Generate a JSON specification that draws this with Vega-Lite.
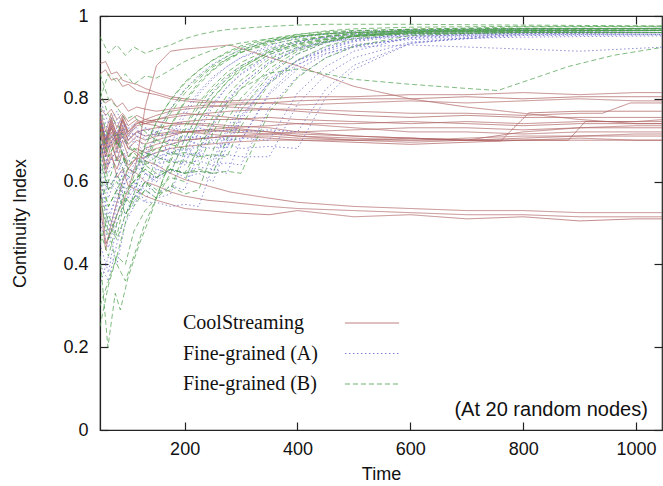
{
"$schema":"https://vega.github.io/schema/vega-lite/v6.json",
"width":562,"height":414,
"autosize":{"type":"none"},
"padding":{"left":100,"top":16,"right":1,"bottom":56},
"background":"white",
"config":{
"view":{"stroke":"#222","strokeWidth":1.2},
"axis":{"grid":false,"domainColor":"#222","domainWidth":1.2,"tickColor":"#222","tickWidth":1.2,"tickSize":-8,"labelFont":"Liberation Sans","labelFontSize":18,"labelColor":"#111","titleFont":"Liberation Sans","titleFontSize":18,"titleFontWeight":"normal","titleColor":"#111","labelFlush":false},
"axisX":{"labelPadding":18,"titlePadding":7},
"axisY":{"labelPadding":20,"titlePadding":33}
},
"layer":[
{
"data":{"values":[
{"s":"C","n":1,"t":50,"v":0.86},{"s":"C","n":1,"t":60,"v":0.87},{"s":"C","n":1,"t":70,"v":0.845},{"s":"C","n":1,"t":80,"v":0.85},{"s":"C","n":1,"t":90,"v":0.83},{"s":"C","n":1,"t":100,"v":0.835},{"s":"C","n":1,"t":115,"v":0.82},{"s":"C","n":1,"t":130,"v":0.815},{"s":"C","n":1,"t":150,"v":0.81},{"s":"C","n":1,"t":175,"v":0.8},{"s":"C","n":1,"t":200,"v":0.795},{"s":"C","n":1,"t":240,"v":0.79},{"s":"C","n":1,"t":280,"v":0.795},{"s":"C","n":1,"t":350,"v":0.8},{"s":"C","n":1,"t":400,"v":0.805},{"s":"C","n":1,"t":500,"v":0.805},{"s":"C","n":1,"t":600,"v":0.81},{"s":"C","n":1,"t":700,"v":0.81},{"s":"C","n":1,"t":800,"v":0.815},{"s":"C","n":1,"t":900,"v":0.81},{"s":"C","n":1,"t":1000,"v":0.815},{"s":"C","n":1,"t":1050,"v":0.815},
{"s":"C","n":2,"t":50,"v":0.885},{"s":"C","n":2,"t":60,"v":0.89},{"s":"C","n":2,"t":70,"v":0.86},{"s":"C","n":2,"t":80,"v":0.865},{"s":"C","n":2,"t":90,"v":0.845},{"s":"C","n":2,"t":100,"v":0.84},{"s":"C","n":2,"t":115,"v":0.835},{"s":"C","n":2,"t":130,"v":0.825},{"s":"C","n":2,"t":150,"v":0.815},{"s":"C","n":2,"t":175,"v":0.805},{"s":"C","n":2,"t":200,"v":0.8},{"s":"C","n":2,"t":240,"v":0.795},{"s":"C","n":2,"t":280,"v":0.79},{"s":"C","n":2,"t":350,"v":0.79},{"s":"C","n":2,"t":400,"v":0.785},{"s":"C","n":2,"t":500,"v":0.79},{"s":"C","n":2,"t":600,"v":0.795},{"s":"C","n":2,"t":700,"v":0.79},{"s":"C","n":2,"t":800,"v":0.795},{"s":"C","n":2,"t":900,"v":0.8},{"s":"C","n":2,"t":1000,"v":0.795},{"s":"C","n":2,"t":1050,"v":0.795},
{"s":"C","n":3,"t":50,"v":0.6},{"s":"C","n":3,"t":60,"v":0.45},{"s":"C","n":3,"t":70,"v":0.48},{"s":"C","n":3,"t":80,"v":0.52},{"s":"C","n":3,"t":90,"v":0.55},{"s":"C","n":3,"t":100,"v":0.58},{"s":"C","n":3,"t":115,"v":0.65},{"s":"C","n":3,"t":130,"v":0.78},{"s":"C","n":3,"t":150,"v":0.88},{"s":"C","n":3,"t":175,"v":0.915},{"s":"C","n":3,"t":200,"v":0.92},{"s":"C","n":3,"t":240,"v":0.925},{"s":"C","n":3,"t":280,"v":0.93},{"s":"C","n":3,"t":350,"v":0.9},{"s":"C","n":3,"t":400,"v":0.88},{"s":"C","n":3,"t":500,"v":0.83},{"s":"C","n":3,"t":600,"v":0.8},{"s":"C","n":3,"t":700,"v":0.78},{"s":"C","n":3,"t":800,"v":0.765},{"s":"C","n":3,"t":900,"v":0.75},{"s":"C","n":3,"t":1000,"v":0.74},{"s":"C","n":3,"t":1050,"v":0.74},
{"s":"C","n":4,"t":50,"v":0.75},{"s":"C","n":4,"t":60,"v":0.69},{"s":"C","n":4,"t":70,"v":0.745},{"s":"C","n":4,"t":80,"v":0.7},{"s":"C","n":4,"t":90,"v":0.75},{"s":"C","n":4,"t":100,"v":0.715},{"s":"C","n":4,"t":115,"v":0.74},{"s":"C","n":4,"t":130,"v":0.75},{"s":"C","n":4,"t":150,"v":0.76},{"s":"C","n":4,"t":175,"v":0.77},{"s":"C","n":4,"t":200,"v":0.775},{"s":"C","n":4,"t":240,"v":0.78},{"s":"C","n":4,"t":280,"v":0.785},{"s":"C","n":4,"t":350,"v":0.79},{"s":"C","n":4,"t":400,"v":0.795},{"s":"C","n":4,"t":500,"v":0.8},{"s":"C","n":4,"t":600,"v":0.8},{"s":"C","n":4,"t":700,"v":0.805},{"s":"C","n":4,"t":800,"v":0.8},{"s":"C","n":4,"t":900,"v":0.805},{"s":"C","n":4,"t":1000,"v":0.805},{"s":"C","n":4,"t":1050,"v":0.805},
{"s":"C","n":5,"t":50,"v":0.74},{"s":"C","n":5,"t":60,"v":0.68},{"s":"C","n":5,"t":70,"v":0.73},{"s":"C","n":5,"t":80,"v":0.69},{"s":"C","n":5,"t":90,"v":0.735},{"s":"C","n":5,"t":100,"v":0.7},{"s":"C","n":5,"t":115,"v":0.72},{"s":"C","n":5,"t":130,"v":0.71},{"s":"C","n":5,"t":150,"v":0.715},{"s":"C","n":5,"t":175,"v":0.72},{"s":"C","n":5,"t":200,"v":0.72},{"s":"C","n":5,"t":240,"v":0.725},{"s":"C","n":5,"t":280,"v":0.72},{"s":"C","n":5,"t":350,"v":0.715},{"s":"C","n":5,"t":400,"v":0.71},{"s":"C","n":5,"t":500,"v":0.705},{"s":"C","n":5,"t":600,"v":0.7},{"s":"C","n":5,"t":700,"v":0.7},{"s":"C","n":5,"t":760,"v":0.698},{"s":"C","n":5,"t":810,"v":0.766},{"s":"C","n":5,"t":900,"v":0.77},{"s":"C","n":5,"t":1000,"v":0.77},{"s":"C","n":5,"t":1050,"v":0.77},
{"s":"C","n":6,"t":50,"v":0.76},{"s":"C","n":6,"t":60,"v":0.7},{"s":"C","n":6,"t":70,"v":0.75},{"s":"C","n":6,"t":80,"v":0.71},{"s":"C","n":6,"t":90,"v":0.755},{"s":"C","n":6,"t":100,"v":0.72},{"s":"C","n":6,"t":115,"v":0.745},{"s":"C","n":6,"t":130,"v":0.74},{"s":"C","n":6,"t":150,"v":0.75},{"s":"C","n":6,"t":175,"v":0.755},{"s":"C","n":6,"t":200,"v":0.76},{"s":"C","n":6,"t":240,"v":0.765},{"s":"C","n":6,"t":280,"v":0.77},{"s":"C","n":6,"t":350,"v":0.775},{"s":"C","n":6,"t":400,"v":0.775},{"s":"C","n":6,"t":500,"v":0.77},{"s":"C","n":6,"t":600,"v":0.765},{"s":"C","n":6,"t":700,"v":0.765},{"s":"C","n":6,"t":800,"v":0.76},{"s":"C","n":6,"t":900,"v":0.765},{"s":"C","n":6,"t":940,"v":0.765},{"s":"C","n":6,"t":990,"v":0.79},{"s":"C","n":6,"t":1050,"v":0.79},
{"s":"C","n":7,"t":50,"v":0.8},{"s":"C","n":7,"t":60,"v":0.79},{"s":"C","n":7,"t":70,"v":0.8},{"s":"C","n":7,"t":80,"v":0.78},{"s":"C","n":7,"t":90,"v":0.79},{"s":"C","n":7,"t":100,"v":0.77},{"s":"C","n":7,"t":115,"v":0.78},{"s":"C","n":7,"t":130,"v":0.775},{"s":"C","n":7,"t":150,"v":0.77},{"s":"C","n":7,"t":175,"v":0.775},{"s":"C","n":7,"t":200,"v":0.78},{"s":"C","n":7,"t":240,"v":0.785},{"s":"C","n":7,"t":280,"v":0.78},{"s":"C","n":7,"t":350,"v":0.775},{"s":"C","n":7,"t":400,"v":0.77},{"s":"C","n":7,"t":500,"v":0.76},{"s":"C","n":7,"t":600,"v":0.755},{"s":"C","n":7,"t":700,"v":0.76},{"s":"C","n":7,"t":800,"v":0.755},{"s":"C","n":7,"t":900,"v":0.755},{"s":"C","n":7,"t":1000,"v":0.755},{"s":"C","n":7,"t":1050,"v":0.755},
{"s":"C","n":8,"t":50,"v":0.73},{"s":"C","n":8,"t":60,"v":0.67},{"s":"C","n":8,"t":70,"v":0.72},{"s":"C","n":8,"t":80,"v":0.68},{"s":"C","n":8,"t":90,"v":0.725},{"s":"C","n":8,"t":100,"v":0.69},{"s":"C","n":8,"t":115,"v":0.71},{"s":"C","n":8,"t":130,"v":0.7},{"s":"C","n":8,"t":150,"v":0.71},{"s":"C","n":8,"t":175,"v":0.715},{"s":"C","n":8,"t":200,"v":0.72},{"s":"C","n":8,"t":240,"v":0.72},{"s":"C","n":8,"t":280,"v":0.725},{"s":"C","n":8,"t":350,"v":0.72},{"s":"C","n":8,"t":400,"v":0.715},{"s":"C","n":8,"t":500,"v":0.71},{"s":"C","n":8,"t":600,"v":0.705},{"s":"C","n":8,"t":700,"v":0.7},{"s":"C","n":8,"t":800,"v":0.7},{"s":"C","n":8,"t":880,"v":0.7},{"s":"C","n":8,"t":910,"v":0.745},{"s":"C","n":8,"t":1000,"v":0.745},{"s":"C","n":8,"t":1050,"v":0.75},
{"s":"C","n":9,"t":50,"v":0.75},{"s":"C","n":9,"t":60,"v":0.69},{"s":"C","n":9,"t":70,"v":0.74},{"s":"C","n":9,"t":80,"v":0.7},{"s":"C","n":9,"t":90,"v":0.745},{"s":"C","n":9,"t":100,"v":0.71},{"s":"C","n":9,"t":115,"v":0.735},{"s":"C","n":9,"t":130,"v":0.74},{"s":"C","n":9,"t":150,"v":0.745},{"s":"C","n":9,"t":175,"v":0.74},{"s":"C","n":9,"t":200,"v":0.745},{"s":"C","n":9,"t":240,"v":0.75},{"s":"C","n":9,"t":280,"v":0.75},{"s":"C","n":9,"t":350,"v":0.755},{"s":"C","n":9,"t":400,"v":0.75},{"s":"C","n":9,"t":500,"v":0.745},{"s":"C","n":9,"t":600,"v":0.74},{"s":"C","n":9,"t":700,"v":0.745},{"s":"C","n":9,"t":800,"v":0.74},{"s":"C","n":9,"t":900,"v":0.745},{"s":"C","n":9,"t":1000,"v":0.745},{"s":"C","n":9,"t":1050,"v":0.745},
{"s":"C","n":10,"t":50,"v":0.72},{"s":"C","n":10,"t":60,"v":0.66},{"s":"C","n":10,"t":70,"v":0.71},{"s":"C","n":10,"t":80,"v":0.67},{"s":"C","n":10,"t":90,"v":0.72},{"s":"C","n":10,"t":100,"v":0.68},{"s":"C","n":10,"t":115,"v":0.7},{"s":"C","n":10,"t":130,"v":0.69},{"s":"C","n":10,"t":150,"v":0.7},{"s":"C","n":10,"t":175,"v":0.71},{"s":"C","n":10,"t":200,"v":0.72},{"s":"C","n":10,"t":240,"v":0.725},{"s":"C","n":10,"t":280,"v":0.73},{"s":"C","n":10,"t":350,"v":0.735},{"s":"C","n":10,"t":400,"v":0.74},{"s":"C","n":10,"t":500,"v":0.74},{"s":"C","n":10,"t":600,"v":0.745},{"s":"C","n":10,"t":700,"v":0.74},{"s":"C","n":10,"t":800,"v":0.735},{"s":"C","n":10,"t":900,"v":0.74},{"s":"C","n":10,"t":1000,"v":0.74},{"s":"C","n":10,"t":1050,"v":0.74},
{"s":"C","n":11,"t":50,"v":0.78},{"s":"C","n":11,"t":60,"v":0.76},{"s":"C","n":11,"t":70,"v":0.775},{"s":"C","n":11,"t":80,"v":0.75},{"s":"C","n":11,"t":90,"v":0.765},{"s":"C","n":11,"t":100,"v":0.745},{"s":"C","n":11,"t":115,"v":0.76},{"s":"C","n":11,"t":130,"v":0.75},{"s":"C","n":11,"t":150,"v":0.745},{"s":"C","n":11,"t":175,"v":0.74},{"s":"C","n":11,"t":200,"v":0.74},{"s":"C","n":11,"t":240,"v":0.735},{"s":"C","n":11,"t":280,"v":0.73},{"s":"C","n":11,"t":350,"v":0.72},{"s":"C","n":11,"t":400,"v":0.71},{"s":"C","n":11,"t":500,"v":0.7},{"s":"C","n":11,"t":600,"v":0.695},{"s":"C","n":11,"t":700,"v":0.7},{"s":"C","n":11,"t":800,"v":0.72},{"s":"C","n":11,"t":900,"v":0.73},{"s":"C","n":11,"t":1000,"v":0.735},{"s":"C","n":11,"t":1050,"v":0.735},
{"s":"C","n":12,"t":50,"v":0.7},{"s":"C","n":12,"t":60,"v":0.64},{"s":"C","n":12,"t":70,"v":0.69},{"s":"C","n":12,"t":80,"v":0.65},{"s":"C","n":12,"t":90,"v":0.7},{"s":"C","n":12,"t":100,"v":0.66},{"s":"C","n":12,"t":115,"v":0.68},{"s":"C","n":12,"t":130,"v":0.67},{"s":"C","n":12,"t":150,"v":0.68},{"s":"C","n":12,"t":175,"v":0.69},{"s":"C","n":12,"t":200,"v":0.7},{"s":"C","n":12,"t":240,"v":0.705},{"s":"C","n":12,"t":280,"v":0.71},{"s":"C","n":12,"t":350,"v":0.715},{"s":"C","n":12,"t":400,"v":0.72},{"s":"C","n":12,"t":500,"v":0.725},{"s":"C","n":12,"t":600,"v":0.73},{"s":"C","n":12,"t":700,"v":0.73},{"s":"C","n":12,"t":800,"v":0.725},{"s":"C","n":12,"t":900,"v":0.73},{"s":"C","n":12,"t":1000,"v":0.73},{"s":"C","n":12,"t":1050,"v":0.73},
{"s":"C","n":13,"t":50,"v":0.76},{"s":"C","n":13,"t":60,"v":0.7},{"s":"C","n":13,"t":70,"v":0.755},{"s":"C","n":13,"t":80,"v":0.71},{"s":"C","n":13,"t":90,"v":0.75},{"s":"C","n":13,"t":100,"v":0.72},{"s":"C","n":13,"t":115,"v":0.74},{"s":"C","n":13,"t":130,"v":0.745},{"s":"C","n":13,"t":150,"v":0.75},{"s":"C","n":13,"t":175,"v":0.76},{"s":"C","n":13,"t":200,"v":0.765},{"s":"C","n":13,"t":240,"v":0.76},{"s":"C","n":13,"t":280,"v":0.755},{"s":"C","n":13,"t":350,"v":0.745},{"s":"C","n":13,"t":400,"v":0.74},{"s":"C","n":13,"t":500,"v":0.73},{"s":"C","n":13,"t":600,"v":0.72},{"s":"C","n":13,"t":700,"v":0.72},{"s":"C","n":13,"t":800,"v":0.715},{"s":"C","n":13,"t":900,"v":0.72},{"s":"C","n":13,"t":1000,"v":0.72},{"s":"C","n":13,"t":1050,"v":0.72},
{"s":"C","n":14,"t":50,"v":0.55},{"s":"C","n":14,"t":60,"v":0.435},{"s":"C","n":14,"t":70,"v":0.5},{"s":"C","n":14,"t":80,"v":0.55},{"s":"C","n":14,"t":90,"v":0.6},{"s":"C","n":14,"t":100,"v":0.63},{"s":"C","n":14,"t":115,"v":0.66},{"s":"C","n":14,"t":130,"v":0.68},{"s":"C","n":14,"t":150,"v":0.69},{"s":"C","n":14,"t":175,"v":0.7},{"s":"C","n":14,"t":200,"v":0.7},{"s":"C","n":14,"t":240,"v":0.705},{"s":"C","n":14,"t":280,"v":0.71},{"s":"C","n":14,"t":350,"v":0.71},{"s":"C","n":14,"t":400,"v":0.705},{"s":"C","n":14,"t":500,"v":0.7},{"s":"C","n":14,"t":600,"v":0.7},{"s":"C","n":14,"t":700,"v":0.705},{"s":"C","n":14,"t":800,"v":0.71},{"s":"C","n":14,"t":900,"v":0.71},{"s":"C","n":14,"t":1000,"v":0.715},{"s":"C","n":14,"t":1050,"v":0.715},
{"s":"C","n":15,"t":50,"v":0.74},{"s":"C","n":15,"t":60,"v":0.68},{"s":"C","n":15,"t":70,"v":0.735},{"s":"C","n":15,"t":80,"v":0.69},{"s":"C","n":15,"t":90,"v":0.73},{"s":"C","n":15,"t":100,"v":0.7},{"s":"C","n":15,"t":115,"v":0.72},{"s":"C","n":15,"t":130,"v":0.725},{"s":"C","n":15,"t":150,"v":0.73},{"s":"C","n":15,"t":175,"v":0.735},{"s":"C","n":15,"t":200,"v":0.74},{"s":"C","n":15,"t":240,"v":0.74},{"s":"C","n":15,"t":280,"v":0.735},{"s":"C","n":15,"t":350,"v":0.73},{"s":"C","n":15,"t":400,"v":0.72},{"s":"C","n":15,"t":500,"v":0.71},{"s":"C","n":15,"t":600,"v":0.705},{"s":"C","n":15,"t":700,"v":0.7},{"s":"C","n":15,"t":800,"v":0.705},{"s":"C","n":15,"t":900,"v":0.71},{"s":"C","n":15,"t":1000,"v":0.71},{"s":"C","n":15,"t":1050,"v":0.71},
{"s":"C","n":16,"t":50,"v":0.77},{"s":"C","n":16,"t":60,"v":0.72},{"s":"C","n":16,"t":70,"v":0.765},{"s":"C","n":16,"t":80,"v":0.73},{"s":"C","n":16,"t":90,"v":0.76},{"s":"C","n":16,"t":100,"v":0.735},{"s":"C","n":16,"t":115,"v":0.75},{"s":"C","n":16,"t":130,"v":0.74},{"s":"C","n":16,"t":150,"v":0.735},{"s":"C","n":16,"t":175,"v":0.725},{"s":"C","n":16,"t":200,"v":0.72},{"s":"C","n":16,"t":240,"v":0.715},{"s":"C","n":16,"t":280,"v":0.71},{"s":"C","n":16,"t":350,"v":0.705},{"s":"C","n":16,"t":400,"v":0.7},{"s":"C","n":16,"t":500,"v":0.695},{"s":"C","n":16,"t":600,"v":0.69},{"s":"C","n":16,"t":700,"v":0.695},{"s":"C","n":16,"t":800,"v":0.7},{"s":"C","n":16,"t":900,"v":0.7},{"s":"C","n":16,"t":1000,"v":0.7},{"s":"C","n":16,"t":1050,"v":0.7},
{"s":"C","n":17,"t":50,"v":0.68},{"s":"C","n":17,"t":60,"v":0.62},{"s":"C","n":17,"t":70,"v":0.66},{"s":"C","n":17,"t":80,"v":0.63},{"s":"C","n":17,"t":90,"v":0.67},{"s":"C","n":17,"t":100,"v":0.64},{"s":"C","n":17,"t":115,"v":0.655},{"s":"C","n":17,"t":130,"v":0.66},{"s":"C","n":17,"t":150,"v":0.67},{"s":"C","n":17,"t":175,"v":0.68},{"s":"C","n":17,"t":200,"v":0.685},{"s":"C","n":17,"t":240,"v":0.69},{"s":"C","n":17,"t":280,"v":0.695},{"s":"C","n":17,"t":350,"v":0.7},{"s":"C","n":17,"t":400,"v":0.7},{"s":"C","n":17,"t":500,"v":0.7},{"s":"C","n":17,"t":600,"v":0.705},{"s":"C","n":17,"t":700,"v":0.7},{"s":"C","n":17,"t":800,"v":0.7},{"s":"C","n":17,"t":900,"v":0.705},{"s":"C","n":17,"t":1000,"v":0.7},{"s":"C","n":17,"t":1050,"v":0.7},
{"s":"C","n":18,"t":50,"v":0.75},{"s":"C","n":18,"t":60,"v":0.7},{"s":"C","n":18,"t":70,"v":0.73},{"s":"C","n":18,"t":80,"v":0.69},{"s":"C","n":18,"t":90,"v":0.71},{"s":"C","n":18,"t":100,"v":0.68},{"s":"C","n":18,"t":115,"v":0.67},{"s":"C","n":18,"t":130,"v":0.65},{"s":"C","n":18,"t":150,"v":0.64},{"s":"C","n":18,"t":175,"v":0.62},{"s":"C","n":18,"t":200,"v":0.605},{"s":"C","n":18,"t":240,"v":0.59},{"s":"C","n":18,"t":280,"v":0.575},{"s":"C","n":18,"t":350,"v":0.56},{"s":"C","n":18,"t":400,"v":0.55},{"s":"C","n":18,"t":500,"v":0.54},{"s":"C","n":18,"t":600,"v":0.535},{"s":"C","n":18,"t":700,"v":0.53},{"s":"C","n":18,"t":800,"v":0.53},{"s":"C","n":18,"t":900,"v":0.525},{"s":"C","n":18,"t":1000,"v":0.525},{"s":"C","n":18,"t":1050,"v":0.525},
{"s":"C","n":19,"t":50,"v":0.72},{"s":"C","n":19,"t":60,"v":0.66},{"s":"C","n":19,"t":70,"v":0.7},{"s":"C","n":19,"t":80,"v":0.65},{"s":"C","n":19,"t":90,"v":0.67},{"s":"C","n":19,"t":100,"v":0.63},{"s":"C","n":19,"t":115,"v":0.62},{"s":"C","n":19,"t":130,"v":0.6},{"s":"C","n":19,"t":150,"v":0.59},{"s":"C","n":19,"t":175,"v":0.575},{"s":"C","n":19,"t":200,"v":0.565},{"s":"C","n":19,"t":240,"v":0.555},{"s":"C","n":19,"t":280,"v":0.55},{"s":"C","n":19,"t":350,"v":0.54},{"s":"C","n":19,"t":400,"v":0.535},{"s":"C","n":19,"t":500,"v":0.53},{"s":"C","n":19,"t":600,"v":0.525},{"s":"C","n":19,"t":700,"v":0.52},{"s":"C","n":19,"t":800,"v":0.52},{"s":"C","n":19,"t":900,"v":0.515},{"s":"C","n":19,"t":1000,"v":0.515},{"s":"C","n":19,"t":1050,"v":0.515},
{"s":"C","n":20,"t":50,"v":0.7},{"s":"C","n":20,"t":60,"v":0.63},{"s":"C","n":20,"t":70,"v":0.67},{"s":"C","n":20,"t":80,"v":0.61},{"s":"C","n":20,"t":90,"v":0.63},{"s":"C","n":20,"t":100,"v":0.59},{"s":"C","n":20,"t":115,"v":0.58},{"s":"C","n":20,"t":130,"v":0.565},{"s":"C","n":20,"t":150,"v":0.555},{"s":"C","n":20,"t":175,"v":0.545},{"s":"C","n":20,"t":200,"v":0.535},{"s":"C","n":20,"t":240,"v":0.53},{"s":"C","n":20,"t":280,"v":0.525},{"s":"C","n":20,"t":350,"v":0.52},{"s":"C","n":20,"t":400,"v":0.53},{"s":"C","n":20,"t":500,"v":0.515},{"s":"C","n":20,"t":600,"v":0.52},{"s":"C","n":20,"t":700,"v":0.51},{"s":"C","n":20,"t":800,"v":0.515},{"s":"C","n":20,"t":900,"v":0.505},{"s":"C","n":20,"t":1000,"v":0.51},{"s":"C","n":20,"t":1050,"v":0.51},
{"s":"A","n":1,"t":50,"v":0.45},{"s":"A","n":1,"t":65,"v":0.38},{"s":"A","n":1,"t":80,"v":0.5},{"s":"A","n":1,"t":95,"v":0.55},{"s":"A","n":1,"t":110,"v":0.58},{"s":"A","n":1,"t":130,"v":0.657},{"s":"A","n":1,"t":150,"v":0.719},{"s":"A","n":1,"t":175,"v":0.776},{"s":"A","n":1,"t":200,"v":0.823},{"s":"A","n":1,"t":225,"v":0.857},{"s":"A","n":1,"t":250,"v":0.884},{"s":"A","n":1,"t":275,"v":0.903},{"s":"A","n":1,"t":300,"v":0.919},{"s":"A","n":1,"t":350,"v":0.938},{"s":"A","n":1,"t":400,"v":0.95},{"s":"A","n":1,"t":450,"v":0.956},{"s":"A","n":1,"t":500,"v":0.96},{"s":"A","n":1,"t":600,"v":0.963},{"s":"A","n":1,"t":800,"v":0.965},{"s":"A","n":1,"t":1050,"v":0.966},
{"s":"A","n":2,"t":50,"v":0.7},{"s":"A","n":2,"t":65,"v":0.62},{"s":"A","n":2,"t":80,"v":0.66},{"s":"A","n":2,"t":95,"v":0.58},{"s":"A","n":2,"t":110,"v":0.6},{"s":"A","n":2,"t":130,"v":0.55},{"s":"A","n":2,"t":150,"v":0.632},{"s":"A","n":2,"t":175,"v":0.71},{"s":"A","n":2,"t":200,"v":0.771},{"s":"A","n":2,"t":225,"v":0.817},{"s":"A","n":2,"t":250,"v":0.853},{"s":"A","n":2,"t":275,"v":0.878},{"s":"A","n":2,"t":300,"v":0.899},{"s":"A","n":2,"t":350,"v":0.924},{"s":"A","n":2,"t":400,"v":0.94},{"s":"A","n":2,"t":450,"v":0.948},{"s":"A","n":2,"t":500,"v":0.953},{"s":"A","n":2,"t":600,"v":0.958},{"s":"A","n":2,"t":800,"v":0.96},{"s":"A","n":2,"t":1050,"v":0.961},
{"s":"A","n":3,"t":50,"v":0.75},{"s":"A","n":3,"t":65,"v":0.68},{"s":"A","n":3,"t":80,"v":0.72},{"s":"A","n":3,"t":95,"v":0.64},{"s":"A","n":3,"t":110,"v":0.66},{"s":"A","n":3,"t":130,"v":0.62},{"s":"A","n":3,"t":150,"v":0.6},{"s":"A","n":3,"t":175,"v":0.689},{"s":"A","n":3,"t":200,"v":0.759},{"s":"A","n":3,"t":225,"v":0.811},{"s":"A","n":3,"t":250,"v":0.848},{"s":"A","n":3,"t":275,"v":0.878},{"s":"A","n":3,"t":300,"v":0.9},{"s":"A","n":3,"t":350,"v":0.929},{"s":"A","n":3,"t":400,"v":0.947},{"s":"A","n":3,"t":450,"v":0.957},{"s":"A","n":3,"t":500,"v":0.963},{"s":"A","n":3,"t":600,"v":0.967},{"s":"A","n":3,"t":800,"v":0.969},{"s":"A","n":3,"t":1050,"v":0.97},
{"s":"A","n":4,"t":50,"v":0.6},{"s":"A","n":4,"t":65,"v":0.52},{"s":"A","n":4,"t":80,"v":0.56},{"s":"A","n":4,"t":95,"v":0.62},{"s":"A","n":4,"t":110,"v":0.58},{"s":"A","n":4,"t":130,"v":0.65},{"s":"A","n":4,"t":150,"v":0.63},{"s":"A","n":4,"t":175,"v":0.62},{"s":"A","n":4,"t":200,"v":0.703},{"s":"A","n":4,"t":225,"v":0.768},{"s":"A","n":4,"t":250,"v":0.817},{"s":"A","n":4,"t":275,"v":0.851},{"s":"A","n":4,"t":300,"v":0.879},{"s":"A","n":4,"t":350,"v":0.917},{"s":"A","n":4,"t":400,"v":0.937},{"s":"A","n":4,"t":450,"v":0.949},{"s":"A","n":4,"t":500,"v":0.956},{"s":"A","n":4,"t":600,"v":0.962},{"s":"A","n":4,"t":800,"v":0.965},{"s":"A","n":4,"t":1050,"v":0.965},
{"s":"A","n":5,"t":50,"v":0.68},{"s":"A","n":5,"t":65,"v":0.58},{"s":"A","n":5,"t":80,"v":0.62},{"s":"A","n":5,"t":95,"v":0.55},{"s":"A","n":5,"t":110,"v":0.6},{"s":"A","n":5,"t":130,"v":0.58},{"s":"A","n":5,"t":150,"v":0.56},{"s":"A","n":5,"t":175,"v":0.57},{"s":"A","n":5,"t":200,"v":0.662},{"s":"A","n":5,"t":225,"v":0.736},{"s":"A","n":5,"t":250,"v":0.789},{"s":"A","n":5,"t":275,"v":0.828},{"s":"A","n":5,"t":300,"v":0.859},{"s":"A","n":5,"t":350,"v":0.901},{"s":"A","n":5,"t":400,"v":0.923},{"s":"A","n":5,"t":450,"v":0.937},{"s":"A","n":5,"t":500,"v":0.945},{"s":"A","n":5,"t":600,"v":0.952},{"s":"A","n":5,"t":800,"v":0.955},{"s":"A","n":5,"t":1050,"v":0.956},
{"s":"A","n":6,"t":50,"v":0.74},{"s":"A","n":6,"t":65,"v":0.7},{"s":"A","n":6,"t":80,"v":0.73},{"s":"A","n":6,"t":95,"v":0.66},{"s":"A","n":6,"t":110,"v":0.7},{"s":"A","n":6,"t":130,"v":0.67},{"s":"A","n":6,"t":150,"v":0.66},{"s":"A","n":6,"t":175,"v":0.65},{"s":"A","n":6,"t":200,"v":0.64},{"s":"A","n":6,"t":225,"v":0.719},{"s":"A","n":6,"t":250,"v":0.782},{"s":"A","n":6,"t":275,"v":0.828},{"s":"A","n":6,"t":300,"v":0.861},{"s":"A","n":6,"t":350,"v":0.907},{"s":"A","n":6,"t":400,"v":0.934},{"s":"A","n":6,"t":450,"v":0.95},{"s":"A","n":6,"t":500,"v":0.958},{"s":"A","n":6,"t":600,"v":0.966},{"s":"A","n":6,"t":800,"v":0.969},{"s":"A","n":6,"t":1050,"v":0.97},
{"s":"A","n":7,"t":50,"v":0.35},{"s":"A","n":7,"t":65,"v":0.42},{"s":"A","n":7,"t":80,"v":0.4},{"s":"A","n":7,"t":95,"v":0.5},{"s":"A","n":7,"t":110,"v":0.54},{"s":"A","n":7,"t":130,"v":0.6},{"s":"A","n":7,"t":150,"v":0.57},{"s":"A","n":7,"t":175,"v":0.59},{"s":"A","n":7,"t":200,"v":0.58},{"s":"A","n":7,"t":225,"v":0.671},{"s":"A","n":7,"t":250,"v":0.743},{"s":"A","n":7,"t":275,"v":0.797},{"s":"A","n":7,"t":300,"v":0.835},{"s":"A","n":7,"t":350,"v":0.888},{"s":"A","n":7,"t":400,"v":0.918},{"s":"A","n":7,"t":450,"v":0.936},{"s":"A","n":7,"t":500,"v":0.946},{"s":"A","n":7,"t":600,"v":0.955},{"s":"A","n":7,"t":800,"v":0.959},{"s":"A","n":7,"t":1050,"v":0.96},
{"s":"A","n":8,"t":50,"v":0.78},{"s":"A","n":8,"t":65,"v":0.72},{"s":"A","n":8,"t":80,"v":0.75},{"s":"A","n":8,"t":95,"v":0.69},{"s":"A","n":8,"t":110,"v":0.72},{"s":"A","n":8,"t":130,"v":0.68},{"s":"A","n":8,"t":150,"v":0.7},{"s":"A","n":8,"t":175,"v":0.67},{"s":"A","n":8,"t":200,"v":0.68},{"s":"A","n":8,"t":225,"v":0.66},{"s":"A","n":8,"t":250,"v":0.733},{"s":"A","n":8,"t":275,"v":0.791},{"s":"A","n":8,"t":300,"v":0.834},{"s":"A","n":8,"t":350,"v":0.889},{"s":"A","n":8,"t":400,"v":0.922},{"s":"A","n":8,"t":450,"v":0.94},{"s":"A","n":8,"t":500,"v":0.951},{"s":"A","n":8,"t":600,"v":0.96},{"s":"A","n":8,"t":800,"v":0.964},{"s":"A","n":8,"t":1050,"v":0.965},
{"s":"A","n":9,"t":50,"v":0.62},{"s":"A","n":9,"t":65,"v":0.5},{"s":"A","n":9,"t":80,"v":0.58},{"s":"A","n":9,"t":95,"v":0.52},{"s":"A","n":9,"t":110,"v":0.57},{"s":"A","n":9,"t":130,"v":0.55},{"s":"A","n":9,"t":150,"v":0.55},{"s":"A","n":9,"t":175,"v":0.54},{"s":"A","n":9,"t":200,"v":0.545},{"s":"A","n":9,"t":225,"v":0.54},{"s":"A","n":9,"t":250,"v":0.638},{"s":"A","n":9,"t":275,"v":0.716},{"s":"A","n":9,"t":300,"v":0.774},{"s":"A","n":9,"t":350,"v":0.848},{"s":"A","n":9,"t":400,"v":0.893},{"s":"A","n":9,"t":450,"v":0.916},{"s":"A","n":9,"t":500,"v":0.931},{"s":"A","n":9,"t":600,"v":0.943},{"s":"A","n":9,"t":800,"v":0.949},{"s":"A","n":9,"t":1050,"v":0.952},
{"s":"A","n":10,"t":50,"v":0.55},{"s":"A","n":10,"t":65,"v":0.6},{"s":"A","n":10,"t":80,"v":0.58},{"s":"A","n":10,"t":95,"v":0.64},{"s":"A","n":10,"t":110,"v":0.62},{"s":"A","n":10,"t":130,"v":0.67},{"s":"A","n":10,"t":150,"v":0.65},{"s":"A","n":10,"t":175,"v":0.67},{"s":"A","n":10,"t":200,"v":0.66},{"s":"A","n":10,"t":225,"v":0.665},{"s":"A","n":10,"t":250,"v":0.65},{"s":"A","n":10,"t":275,"v":0.727},{"s":"A","n":10,"t":300,"v":0.788},{"s":"A","n":10,"t":350,"v":0.864},{"s":"A","n":10,"t":400,"v":0.909},{"s":"A","n":10,"t":450,"v":0.935},{"s":"A","n":10,"t":500,"v":0.95},{"s":"A","n":10,"t":600,"v":0.964},{"s":"A","n":10,"t":800,"v":0.969},{"s":"A","n":10,"t":1050,"v":0.97},
{"s":"A","n":11,"t":50,"v":0.72},{"s":"A","n":11,"t":65,"v":0.64},{"s":"A","n":11,"t":80,"v":0.68},{"s":"A","n":11,"t":95,"v":0.61},{"s":"A","n":11,"t":110,"v":0.64},{"s":"A","n":11,"t":130,"v":0.62},{"s":"A","n":11,"t":150,"v":0.61},{"s":"A","n":11,"t":175,"v":0.63},{"s":"A","n":11,"t":200,"v":0.61},{"s":"A","n":11,"t":225,"v":0.62},{"s":"A","n":11,"t":250,"v":0.6},{"s":"A","n":11,"t":275,"v":0.686},{"s":"A","n":11,"t":300,"v":0.755},{"s":"A","n":11,"t":350,"v":0.841},{"s":"A","n":11,"t":400,"v":0.892},{"s":"A","n":11,"t":450,"v":0.92},{"s":"A","n":11,"t":500,"v":0.938},{"s":"A","n":11,"t":600,"v":0.953},{"s":"A","n":11,"t":800,"v":0.959},{"s":"A","n":11,"t":1050,"v":0.96},
{"s":"A","n":12,"t":50,"v":0.8},{"s":"A","n":12,"t":65,"v":0.74},{"s":"A","n":12,"t":80,"v":0.77},{"s":"A","n":12,"t":95,"v":0.72},{"s":"A","n":12,"t":110,"v":0.74},{"s":"A","n":12,"t":130,"v":0.7},{"s":"A","n":12,"t":150,"v":0.72},{"s":"A","n":12,"t":175,"v":0.69},{"s":"A","n":12,"t":200,"v":0.7},{"s":"A","n":12,"t":225,"v":0.69},{"s":"A","n":12,"t":250,"v":0.695},{"s":"A","n":12,"t":275,"v":0.68},{"s":"A","n":12,"t":300,"v":0.748},{"s":"A","n":12,"t":350,"v":0.842},{"s":"A","n":12,"t":400,"v":0.894},{"s":"A","n":12,"t":450,"v":0.925},{"s":"A","n":12,"t":500,"v":0.942},{"s":"A","n":12,"t":600,"v":0.957},{"s":"A","n":12,"t":800,"v":0.964},{"s":"A","n":12,"t":1050,"v":0.965},
{"s":"A","n":13,"t":50,"v":0.5},{"s":"A","n":13,"t":65,"v":0.44},{"s":"A","n":13,"t":80,"v":0.52},{"s":"A","n":13,"t":95,"v":0.58},{"s":"A","n":13,"t":110,"v":0.56},{"s":"A","n":13,"t":130,"v":0.62},{"s":"A","n":13,"t":150,"v":0.6},{"s":"A","n":13,"t":175,"v":0.63},{"s":"A","n":13,"t":200,"v":0.62},{"s":"A","n":13,"t":225,"v":0.635},{"s":"A","n":13,"t":250,"v":0.63},{"s":"A","n":13,"t":275,"v":0.62},{"s":"A","n":13,"t":300,"v":0.7},{"s":"A","n":13,"t":350,"v":0.811},{"s":"A","n":13,"t":400,"v":0.871},{"s":"A","n":13,"t":450,"v":0.908},{"s":"A","n":13,"t":500,"v":0.928},{"s":"A","n":13,"t":600,"v":0.946},{"s":"A","n":13,"t":800,"v":0.954},{"s":"A","n":13,"t":1050,"v":0.955},
{"s":"A","n":14,"t":50,"v":0.66},{"s":"A","n":14,"t":65,"v":0.72},{"s":"A","n":14,"t":80,"v":0.69},{"s":"A","n":14,"t":95,"v":0.74},{"s":"A","n":14,"t":110,"v":0.71},{"s":"A","n":14,"t":130,"v":0.73},{"s":"A","n":14,"t":150,"v":0.71},{"s":"A","n":14,"t":175,"v":0.72},{"s":"A","n":14,"t":200,"v":0.705},{"s":"A","n":14,"t":225,"v":0.71},{"s":"A","n":14,"t":250,"v":0.7},{"s":"A","n":14,"t":275,"v":0.705},{"s":"A","n":14,"t":300,"v":0.7},{"s":"A","n":14,"t":350,"v":0.816},{"s":"A","n":14,"t":400,"v":0.881},{"s":"A","n":14,"t":450,"v":0.919},{"s":"A","n":14,"t":500,"v":0.94},{"s":"A","n":14,"t":600,"v":0.96},{"s":"A","n":14,"t":800,"v":0.968},{"s":"A","n":14,"t":1050,"v":0.97},
{"s":"A","n":15,"t":50,"v":0.58},{"s":"A","n":15,"t":65,"v":0.48},{"s":"A","n":15,"t":80,"v":0.55},{"s":"A","n":15,"t":95,"v":0.6},{"s":"A","n":15,"t":110,"v":0.62},{"s":"A","n":15,"t":130,"v":0.66},{"s":"A","n":15,"t":150,"v":0.64},{"s":"A","n":15,"t":175,"v":0.655},{"s":"A","n":15,"t":200,"v":0.645},{"s":"A","n":15,"t":225,"v":0.65},{"s":"A","n":15,"t":250,"v":0.64},{"s":"A","n":15,"t":275,"v":0.645},{"s":"A","n":15,"t":300,"v":0.64},{"s":"A","n":15,"t":350,"v":0.778},{"s":"A","n":15,"t":400,"v":0.854},{"s":"A","n":15,"t":450,"v":0.899},{"s":"A","n":15,"t":500,"v":0.925},{"s":"A","n":15,"t":600,"v":0.948},{"s":"A","n":15,"t":800,"v":0.958},{"s":"A","n":15,"t":1050,"v":0.96},
{"s":"A","n":16,"t":50,"v":0.76},{"s":"A","n":16,"t":65,"v":0.68},{"s":"A","n":16,"t":80,"v":0.72},{"s":"A","n":16,"t":95,"v":0.7},{"s":"A","n":16,"t":110,"v":0.73},{"s":"A","n":16,"t":130,"v":0.71},{"s":"A","n":16,"t":150,"v":0.72},{"s":"A","n":16,"t":175,"v":0.7},{"s":"A","n":16,"t":200,"v":0.71},{"s":"A","n":16,"t":225,"v":0.705},{"s":"A","n":16,"t":250,"v":0.71},{"s":"A","n":16,"t":275,"v":0.7},{"s":"A","n":16,"t":300,"v":0.705},{"s":"A","n":16,"t":350,"v":0.7},{"s":"A","n":16,"t":400,"v":0.814},{"s":"A","n":16,"t":450,"v":0.878},{"s":"A","n":16,"t":500,"v":0.915},{"s":"A","n":16,"t":600,"v":0.949},{"s":"A","n":16,"t":800,"v":0.963},{"s":"A","n":16,"t":1050,"v":0.965},
{"s":"A","n":17,"t":50,"v":0.64},{"s":"A","n":17,"t":65,"v":0.56},{"s":"A","n":17,"t":80,"v":0.62},{"s":"A","n":17,"t":95,"v":0.66},{"s":"A","n":17,"t":110,"v":0.64},{"s":"A","n":17,"t":130,"v":0.68},{"s":"A","n":17,"t":150,"v":0.66},{"s":"A","n":17,"t":175,"v":0.67},{"s":"A","n":17,"t":200,"v":0.665},{"s":"A","n":17,"t":225,"v":0.67},{"s":"A","n":17,"t":250,"v":0.66},{"s":"A","n":17,"t":275,"v":0.665},{"s":"A","n":17,"t":300,"v":0.66},{"s":"A","n":17,"t":350,"v":0.66},{"s":"A","n":17,"t":400,"v":0.787},{"s":"A","n":17,"t":450,"v":0.858},{"s":"A","n":17,"t":500,"v":0.899},{"s":"A","n":17,"t":600,"v":0.937},{"s":"A","n":17,"t":800,"v":0.953},{"s":"A","n":17,"t":1050,"v":0.955},
{"s":"A","n":18,"t":50,"v":0.7},{"s":"A","n":18,"t":65,"v":0.64},{"s":"A","n":18,"t":80,"v":0.68},{"s":"A","n":18,"t":95,"v":0.72},{"s":"A","n":18,"t":110,"v":0.7},{"s":"A","n":18,"t":130,"v":0.73},{"s":"A","n":18,"t":150,"v":0.72},{"s":"A","n":18,"t":175,"v":0.73},{"s":"A","n":18,"t":200,"v":0.725},{"s":"A","n":18,"t":225,"v":0.73},{"s":"A","n":18,"t":250,"v":0.72},{"s":"A","n":18,"t":275,"v":0.725},{"s":"A","n":18,"t":300,"v":0.72},{"s":"A","n":18,"t":350,"v":0.725},{"s":"A","n":18,"t":400,"v":0.72},{"s":"A","n":18,"t":450,"v":0.823},{"s":"A","n":18,"t":500,"v":0.881},{"s":"A","n":18,"t":600,"v":0.934},{"s":"A","n":18,"t":800,"v":0.957},{"s":"A","n":18,"t":1050,"v":0.96},
{"s":"A","n":19,"t":50,"v":0.52},{"s":"A","n":19,"t":65,"v":0.46},{"s":"A","n":19,"t":80,"v":0.54},{"s":"A","n":19,"t":95,"v":0.6},{"s":"A","n":19,"t":110,"v":0.63},{"s":"A","n":19,"t":130,"v":0.66},{"s":"A","n":19,"t":150,"v":0.67},{"s":"A","n":19,"t":175,"v":0.68},{"s":"A","n":19,"t":200,"v":0.675},{"s":"A","n":19,"t":225,"v":0.685},{"s":"A","n":19,"t":250,"v":0.68},{"s":"A","n":19,"t":275,"v":0.69},{"s":"A","n":19,"t":300,"v":0.68},{"s":"A","n":19,"t":350,"v":0.685},{"s":"A","n":19,"t":400,"v":0.68},{"s":"A","n":19,"t":450,"v":0.803},{"s":"A","n":19,"t":500,"v":0.871},{"s":"A","n":19,"t":600,"v":0.934},{"s":"A","n":19,"t":800,"v":0.962},{"s":"A","n":19,"t":1050,"v":0.965},
{"s":"A","n":20,"t":50,"v":0.4},{"s":"A","n":20,"t":65,"v":0.36},{"s":"A","n":20,"t":80,"v":0.45},{"s":"A","n":20,"t":95,"v":0.52},{"s":"A","n":20,"t":110,"v":0.55},{"s":"A","n":20,"t":130,"v":0.6},{"s":"A","n":20,"t":150,"v":0.61},{"s":"A","n":20,"t":175,"v":0.63},{"s":"A","n":20,"t":200,"v":0.62},{"s":"A","n":20,"t":225,"v":0.625},{"s":"A","n":20,"t":250,"v":0.62},{"s":"A","n":20,"t":275,"v":0.698},{"s":"A","n":20,"t":300,"v":0.76},{"s":"A","n":20,"t":350,"v":0.838},{"s":"A","n":20,"t":400,"v":0.883},{"s":"A","n":20,"t":450,"v":0.91},{"s":"A","n":20,"t":500,"v":0.925},{"s":"A","n":20,"t":600,"v":0.93},{"s":"A","n":20,"t":700,"v":0.925},{"s":"A","n":20,"t":800,"v":0.92},{"s":"A","n":20,"t":900,"v":0.915},{"s":"A","n":20,"t":1050,"v":0.925},
{"s":"B","n":1,"t":50,"v":0.95},{"s":"B","n":1,"t":65,"v":0.91},{"s":"B","n":1,"t":80,"v":0.93},{"s":"B","n":1,"t":95,"v":0.905},{"s":"B","n":1,"t":110,"v":0.925},{"s":"B","n":1,"t":130,"v":0.91},{"s":"B","n":1,"t":150,"v":0.92},{"s":"B","n":1,"t":175,"v":0.93},{"s":"B","n":1,"t":200,"v":0.945},{"s":"B","n":1,"t":225,"v":0.955},{"s":"B","n":1,"t":250,"v":0.962},{"s":"B","n":1,"t":275,"v":0.967},{"s":"B","n":1,"t":300,"v":0.97},{"s":"B","n":1,"t":350,"v":0.975},{"s":"B","n":1,"t":400,"v":0.978},{"s":"B","n":1,"t":450,"v":0.98},{"s":"B","n":1,"t":500,"v":0.98},{"s":"B","n":1,"t":600,"v":0.98},{"s":"B","n":1,"t":800,"v":0.978},{"s":"B","n":1,"t":1050,"v":0.976},
{"s":"B","n":2,"t":50,"v":0.8},{"s":"B","n":2,"t":65,"v":0.86},{"s":"B","n":2,"t":80,"v":0.84},{"s":"B","n":2,"t":95,"v":0.86},{"s":"B","n":2,"t":110,"v":0.835},{"s":"B","n":2,"t":130,"v":0.855},{"s":"B","n":2,"t":150,"v":0.85},{"s":"B","n":2,"t":175,"v":0.87},{"s":"B","n":2,"t":200,"v":0.89},{"s":"B","n":2,"t":225,"v":0.905},{"s":"B","n":2,"t":250,"v":0.918},{"s":"B","n":2,"t":275,"v":0.928},{"s":"B","n":2,"t":300,"v":0.935},{"s":"B","n":2,"t":350,"v":0.945},{"s":"B","n":2,"t":400,"v":0.952},{"s":"B","n":2,"t":450,"v":0.957},{"s":"B","n":2,"t":500,"v":0.96},{"s":"B","n":2,"t":600,"v":0.964},{"s":"B","n":2,"t":800,"v":0.967},{"s":"B","n":2,"t":1050,"v":0.968},
{"s":"B","n":3,"t":50,"v":0.42},{"s":"B","n":3,"t":64,"v":0.2},{"s":"B","n":3,"t":77,"v":0.33},{"s":"B","n":3,"t":86,"v":0.29},{"s":"B","n":3,"t":100,"v":0.37},{"s":"B","n":3,"t":120,"v":0.45},{"s":"B","n":3,"t":140,"v":0.52},{"s":"B","n":3,"t":160,"v":0.6},{"s":"B","n":3,"t":185,"v":0.68},{"s":"B","n":3,"t":210,"v":0.75},{"s":"B","n":3,"t":240,"v":0.81},{"s":"B","n":3,"t":270,"v":0.85},{"s":"B","n":3,"t":300,"v":0.88},{"s":"B","n":3,"t":350,"v":0.912},{"s":"B","n":3,"t":400,"v":0.933},{"s":"B","n":3,"t":450,"v":0.946},{"s":"B","n":3,"t":500,"v":0.953},{"s":"B","n":3,"t":600,"v":0.96},{"s":"B","n":3,"t":800,"v":0.964},{"s":"B","n":3,"t":1050,"v":0.965},
{"s":"B","n":4,"t":50,"v":0.55},{"s":"B","n":4,"t":65,"v":0.48},{"s":"B","n":4,"t":80,"v":0.4},{"s":"B","n":4,"t":95,"v":0.36},{"s":"B","n":4,"t":110,"v":0.42},{"s":"B","n":4,"t":130,"v":0.5},{"s":"B","n":4,"t":150,"v":0.56},{"s":"B","n":4,"t":175,"v":0.62},{"s":"B","n":4,"t":200,"v":0.702},{"s":"B","n":4,"t":225,"v":0.766},{"s":"B","n":4,"t":250,"v":0.814},{"s":"B","n":4,"t":275,"v":0.848},{"s":"B","n":4,"t":300,"v":0.875},{"s":"B","n":4,"t":350,"v":0.912},{"s":"B","n":4,"t":400,"v":0.932},{"s":"B","n":4,"t":450,"v":0.944},{"s":"B","n":4,"t":500,"v":0.951},{"s":"B","n":4,"t":600,"v":0.957},{"s":"B","n":4,"t":800,"v":0.96},{"s":"B","n":4,"t":1050,"v":0.96},
{"s":"B","n":5,"t":50,"v":0.65},{"s":"B","n":5,"t":65,"v":0.58},{"s":"B","n":5,"t":80,"v":0.6},{"s":"B","n":5,"t":95,"v":0.55},{"s":"B","n":5,"t":110,"v":0.613},{"s":"B","n":5,"t":130,"v":0.684},{"s":"B","n":5,"t":150,"v":0.743},{"s":"B","n":5,"t":175,"v":0.798},{"s":"B","n":5,"t":200,"v":0.84},{"s":"B","n":5,"t":225,"v":0.869},{"s":"B","n":5,"t":250,"v":0.894},{"s":"B","n":5,"t":275,"v":0.913},{"s":"B","n":5,"t":300,"v":0.928},{"s":"B","n":5,"t":350,"v":0.945},{"s":"B","n":5,"t":400,"v":0.956},{"s":"B","n":5,"t":450,"v":0.962},{"s":"B","n":5,"t":500,"v":0.965},{"s":"B","n":5,"t":600,"v":0.968},{"s":"B","n":5,"t":800,"v":0.97},{"s":"B","n":5,"t":1050,"v":0.97},
{"s":"B","n":6,"t":50,"v":0.78},{"s":"B","n":6,"t":65,"v":0.7},{"s":"B","n":6,"t":80,"v":0.72},{"s":"B","n":6,"t":95,"v":0.64},{"s":"B","n":6,"t":110,"v":0.62},{"s":"B","n":6,"t":130,"v":0.689},{"s":"B","n":6,"t":150,"v":0.744},{"s":"B","n":6,"t":175,"v":0.796},{"s":"B","n":6,"t":200,"v":0.837},{"s":"B","n":6,"t":225,"v":0.868},{"s":"B","n":6,"t":250,"v":0.893},{"s":"B","n":6,"t":275,"v":0.91},{"s":"B","n":6,"t":300,"v":0.924},{"s":"B","n":6,"t":350,"v":0.941},{"s":"B","n":6,"t":400,"v":0.951},{"s":"B","n":6,"t":450,"v":0.957},{"s":"B","n":6,"t":500,"v":0.961},{"s":"B","n":6,"t":600,"v":0.964},{"s":"B","n":6,"t":800,"v":0.965},{"s":"B","n":6,"t":1050,"v":0.966},
{"s":"B","n":7,"t":50,"v":0.45},{"s":"B","n":7,"t":65,"v":0.52},{"s":"B","n":7,"t":80,"v":0.47},{"s":"B","n":7,"t":95,"v":0.56},{"s":"B","n":7,"t":110,"v":0.55},{"s":"B","n":7,"t":130,"v":0.58},{"s":"B","n":7,"t":150,"v":0.658},{"s":"B","n":7,"t":175,"v":0.732},{"s":"B","n":7,"t":200,"v":0.791},{"s":"B","n":7,"t":225,"v":0.834},{"s":"B","n":7,"t":250,"v":0.869},{"s":"B","n":7,"t":275,"v":0.892},{"s":"B","n":7,"t":300,"v":0.912},{"s":"B","n":7,"t":350,"v":0.936},{"s":"B","n":7,"t":400,"v":0.951},{"s":"B","n":7,"t":450,"v":0.959},{"s":"B","n":7,"t":500,"v":0.964},{"s":"B","n":7,"t":600,"v":0.968},{"s":"B","n":7,"t":800,"v":0.97},{"s":"B","n":7,"t":1050,"v":0.97},
{"s":"B","n":8,"t":50,"v":0.82},{"s":"B","n":8,"t":65,"v":0.76},{"s":"B","n":8,"t":80,"v":0.74},{"s":"B","n":8,"t":95,"v":0.7},{"s":"B","n":8,"t":110,"v":0.67},{"s":"B","n":8,"t":130,"v":0.64},{"s":"B","n":8,"t":150,"v":0.704},{"s":"B","n":8,"t":175,"v":0.765},{"s":"B","n":8,"t":200,"v":0.813},{"s":"B","n":8,"t":225,"v":0.848},{"s":"B","n":8,"t":250,"v":0.877},{"s":"B","n":8,"t":275,"v":0.896},{"s":"B","n":8,"t":300,"v":0.912},{"s":"B","n":8,"t":350,"v":0.932},{"s":"B","n":8,"t":400,"v":0.944},{"s":"B","n":8,"t":450,"v":0.951},{"s":"B","n":8,"t":500,"v":0.955},{"s":"B","n":8,"t":600,"v":0.958},{"s":"B","n":8,"t":800,"v":0.96},{"s":"B","n":8,"t":1050,"v":0.96},
{"s":"B","n":9,"t":50,"v":0.3},{"s":"B","n":9,"t":65,"v":0.36},{"s":"B","n":9,"t":80,"v":0.42},{"s":"B","n":9,"t":95,"v":0.4},{"s":"B","n":9,"t":110,"v":0.48},{"s":"B","n":9,"t":130,"v":0.53},{"s":"B","n":9,"t":150,"v":0.56},{"s":"B","n":9,"t":175,"v":0.657},{"s":"B","n":9,"t":200,"v":0.734},{"s":"B","n":9,"t":225,"v":0.791},{"s":"B","n":9,"t":250,"v":0.831},{"s":"B","n":9,"t":275,"v":0.864},{"s":"B","n":9,"t":300,"v":0.888},{"s":"B","n":9,"t":350,"v":0.92},{"s":"B","n":9,"t":400,"v":0.94},{"s":"B","n":9,"t":450,"v":0.95},{"s":"B","n":9,"t":500,"v":0.957},{"s":"B","n":9,"t":600,"v":0.962},{"s":"B","n":9,"t":800,"v":0.965},{"s":"B","n":9,"t":1050,"v":0.965},
{"s":"B","n":10,"t":50,"v":0.72},{"s":"B","n":10,"t":65,"v":0.66},{"s":"B","n":10,"t":80,"v":0.7},{"s":"B","n":10,"t":95,"v":0.65},{"s":"B","n":10,"t":110,"v":0.68},{"s":"B","n":10,"t":130,"v":0.67},{"s":"B","n":10,"t":150,"v":0.66},{"s":"B","n":10,"t":175,"v":0.736},{"s":"B","n":10,"t":200,"v":0.795},{"s":"B","n":10,"t":225,"v":0.84},{"s":"B","n":10,"t":250,"v":0.871},{"s":"B","n":10,"t":275,"v":0.896},{"s":"B","n":10,"t":300,"v":0.915},{"s":"B","n":10,"t":350,"v":0.94},{"s":"B","n":10,"t":400,"v":0.955},{"s":"B","n":10,"t":450,"v":0.964},{"s":"B","n":10,"t":500,"v":0.969},{"s":"B","n":10,"t":600,"v":0.973},{"s":"B","n":10,"t":800,"v":0.975},{"s":"B","n":10,"t":1050,"v":0.975},
{"s":"B","n":11,"t":50,"v":0.62},{"s":"B","n":11,"t":65,"v":0.54},{"s":"B","n":11,"t":80,"v":0.58},{"s":"B","n":11,"t":95,"v":0.52},{"s":"B","n":11,"t":110,"v":0.56},{"s":"B","n":11,"t":130,"v":0.6},{"s":"B","n":11,"t":150,"v":0.57},{"s":"B","n":11,"t":175,"v":0.58},{"s":"B","n":11,"t":200,"v":0.674},{"s":"B","n":11,"t":225,"v":0.748},{"s":"B","n":11,"t":250,"v":0.802},{"s":"B","n":11,"t":275,"v":0.841},{"s":"B","n":11,"t":300,"v":0.873},{"s":"B","n":11,"t":350,"v":0.915},{"s":"B","n":11,"t":400,"v":0.938},{"s":"B","n":11,"t":450,"v":0.952},{"s":"B","n":11,"t":500,"v":0.959},{"s":"B","n":11,"t":600,"v":0.966},{"s":"B","n":11,"t":800,"v":0.97},{"s":"B","n":11,"t":1050,"v":0.97},
{"s":"B","n":12,"t":50,"v":0.58},{"s":"B","n":12,"t":65,"v":0.5},{"s":"B","n":12,"t":80,"v":0.46},{"s":"B","n":12,"t":95,"v":0.52},{"s":"B","n":12,"t":110,"v":0.56},{"s":"B","n":12,"t":130,"v":0.6},{"s":"B","n":12,"t":150,"v":0.58},{"s":"B","n":12,"t":175,"v":0.61},{"s":"B","n":12,"t":200,"v":0.6},{"s":"B","n":12,"t":225,"v":0.688},{"s":"B","n":12,"t":250,"v":0.757},{"s":"B","n":12,"t":275,"v":0.808},{"s":"B","n":12,"t":300,"v":0.845},{"s":"B","n":12,"t":350,"v":0.896},{"s":"B","n":12,"t":400,"v":0.925},{"s":"B","n":12,"t":450,"v":0.942},{"s":"B","n":12,"t":500,"v":0.952},{"s":"B","n":12,"t":600,"v":0.961},{"s":"B","n":12,"t":800,"v":0.964},{"s":"B","n":12,"t":1050,"v":0.965},
{"s":"B","n":13,"t":50,"v":0.86},{"s":"B","n":13,"t":65,"v":0.8},{"s":"B","n":13,"t":80,"v":0.78},{"s":"B","n":13,"t":95,"v":0.75},{"s":"B","n":13,"t":110,"v":0.76},{"s":"B","n":13,"t":130,"v":0.72},{"s":"B","n":13,"t":150,"v":0.7},{"s":"B","n":13,"t":175,"v":0.69},{"s":"B","n":13,"t":200,"v":0.68},{"s":"B","n":13,"t":225,"v":0.747},{"s":"B","n":13,"t":250,"v":0.8},{"s":"B","n":13,"t":275,"v":0.84},{"s":"B","n":13,"t":300,"v":0.868},{"s":"B","n":13,"t":350,"v":0.907},{"s":"B","n":13,"t":400,"v":0.929},{"s":"B","n":13,"t":450,"v":0.943},{"s":"B","n":13,"t":500,"v":0.95},{"s":"B","n":13,"t":600,"v":0.957},{"s":"B","n":13,"t":800,"v":0.96},{"s":"B","n":13,"t":1050,"v":0.96},
{"s":"B","n":14,"t":50,"v":0.48},{"s":"B","n":14,"t":65,"v":0.42},{"s":"B","n":14,"t":80,"v":0.5},{"s":"B","n":14,"t":95,"v":0.56},{"s":"B","n":14,"t":110,"v":0.54},{"s":"B","n":14,"t":130,"v":0.58},{"s":"B","n":14,"t":150,"v":0.56},{"s":"B","n":14,"t":175,"v":0.59},{"s":"B","n":14,"t":200,"v":0.57},{"s":"B","n":14,"t":225,"v":0.58},{"s":"B","n":14,"t":250,"v":0.674},{"s":"B","n":14,"t":275,"v":0.748},{"s":"B","n":14,"t":300,"v":0.802},{"s":"B","n":14,"t":350,"v":0.873},{"s":"B","n":14,"t":400,"v":0.915},{"s":"B","n":14,"t":450,"v":0.938},{"s":"B","n":14,"t":500,"v":0.952},{"s":"B","n":14,"t":600,"v":0.964},{"s":"B","n":14,"t":800,"v":0.969},{"s":"B","n":14,"t":1050,"v":0.97},
{"s":"B","n":15,"t":50,"v":0.7},{"s":"B","n":15,"t":65,"v":0.6},{"s":"B","n":15,"t":80,"v":0.66},{"s":"B","n":15,"t":95,"v":0.62},{"s":"B","n":15,"t":110,"v":0.66},{"s":"B","n":15,"t":130,"v":0.64},{"s":"B","n":15,"t":150,"v":0.66},{"s":"B","n":15,"t":175,"v":0.645},{"s":"B","n":15,"t":200,"v":0.65},{"s":"B","n":15,"t":225,"v":0.64},{"s":"B","n":15,"t":250,"v":0.718},{"s":"B","n":15,"t":275,"v":0.78},{"s":"B","n":15,"t":300,"v":0.825},{"s":"B","n":15,"t":350,"v":0.884},{"s":"B","n":15,"t":400,"v":0.92},{"s":"B","n":15,"t":450,"v":0.938},{"s":"B","n":15,"t":500,"v":0.95},{"s":"B","n":15,"t":600,"v":0.96},{"s":"B","n":15,"t":800,"v":0.964},{"s":"B","n":15,"t":1050,"v":0.965},
{"s":"B","n":16,"t":50,"v":0.66},{"s":"B","n":16,"t":65,"v":0.58},{"s":"B","n":16,"t":80,"v":0.62},{"s":"B","n":16,"t":95,"v":0.57},{"s":"B","n":16,"t":110,"v":0.6},{"s":"B","n":16,"t":130,"v":0.63},{"s":"B","n":16,"t":150,"v":0.61},{"s":"B","n":16,"t":175,"v":0.63},{"s":"B","n":16,"t":200,"v":0.62},{"s":"B","n":16,"t":225,"v":0.625},{"s":"B","n":16,"t":250,"v":0.62},{"s":"B","n":16,"t":275,"v":0.705},{"s":"B","n":16,"t":300,"v":0.773},{"s":"B","n":16,"t":350,"v":0.858},{"s":"B","n":16,"t":400,"v":0.908},{"s":"B","n":16,"t":450,"v":0.936},{"s":"B","n":16,"t":500,"v":0.953},{"s":"B","n":16,"t":600,"v":0.968},{"s":"B","n":16,"t":800,"v":0.974},{"s":"B","n":16,"t":1050,"v":0.975},
{"s":"B","n":17,"t":50,"v":0.74},{"s":"B","n":17,"t":65,"v":0.66},{"s":"B","n":17,"t":80,"v":0.7},{"s":"B","n":17,"t":95,"v":0.64},{"s":"B","n":17,"t":110,"v":0.68},{"s":"B","n":17,"t":130,"v":0.66},{"s":"B","n":17,"t":150,"v":0.68},{"s":"B","n":17,"t":175,"v":0.665},{"s":"B","n":17,"t":200,"v":0.67},{"s":"B","n":17,"t":225,"v":0.66},{"s":"B","n":17,"t":250,"v":0.665},{"s":"B","n":17,"t":275,"v":0.66},{"s":"B","n":17,"t":300,"v":0.734},{"s":"B","n":17,"t":350,"v":0.837},{"s":"B","n":17,"t":400,"v":0.893},{"s":"B","n":17,"t":450,"v":0.927},{"s":"B","n":17,"t":500,"v":0.945},{"s":"B","n":17,"t":600,"v":0.962},{"s":"B","n":17,"t":800,"v":0.968},{"s":"B","n":17,"t":1050,"v":0.97},
{"s":"B","n":18,"t":50,"v":0.56},{"s":"B","n":18,"t":65,"v":0.46},{"s":"B","n":18,"t":80,"v":0.52},{"s":"B","n":18,"t":95,"v":0.58},{"s":"B","n":18,"t":110,"v":0.6},{"s":"B","n":18,"t":130,"v":0.64},{"s":"B","n":18,"t":150,"v":0.62},{"s":"B","n":18,"t":175,"v":0.63},{"s":"B","n":18,"t":200,"v":0.62},{"s":"B","n":18,"t":225,"v":0.63},{"s":"B","n":18,"t":250,"v":0.62},{"s":"B","n":18,"t":275,"v":0.625},{"s":"B","n":18,"t":300,"v":0.62},{"s":"B","n":18,"t":350,"v":0.768},{"s":"B","n":18,"t":400,"v":0.851},{"s":"B","n":18,"t":450,"v":0.899},{"s":"B","n":18,"t":500,"v":0.927},{"s":"B","n":18,"t":600,"v":0.953},{"s":"B","n":18,"t":800,"v":0.963},{"s":"B","n":18,"t":1050,"v":0.965},
{"s":"B","n":19,"t":50,"v":0.6},{"s":"B","n":19,"t":65,"v":0.54},{"s":"B","n":19,"t":80,"v":0.58},{"s":"B","n":19,"t":95,"v":0.62},{"s":"B","n":19,"t":110,"v":0.6},{"s":"B","n":19,"t":130,"v":0.63},{"s":"B","n":19,"t":150,"v":0.61},{"s":"B","n":19,"t":175,"v":0.63},{"s":"B","n":19,"t":200,"v":0.62},{"s":"B","n":19,"t":225,"v":0.68},{"s":"B","n":19,"t":250,"v":0.74},{"s":"B","n":19,"t":275,"v":0.79},{"s":"B","n":19,"t":300,"v":0.825},{"s":"B","n":19,"t":350,"v":0.862},{"s":"B","n":19,"t":400,"v":0.872},{"s":"B","n":19,"t":450,"v":0.86},{"s":"B","n":19,"t":500,"v":0.847},{"s":"B","n":19,"t":600,"v":0.835},{"s":"B","n":19,"t":700,"v":0.825},{"s":"B","n":19,"t":755,"v":0.82},{"s":"B","n":19,"t":820,"v":0.85},{"s":"B","n":19,"t":880,"v":0.878},{"s":"B","n":19,"t":960,"v":0.905},{"s":"B","n":19,"t":1050,"v":0.925},
{"s":"B","n":20,"t":50,"v":0.25},{"s":"B","n":20,"t":65,"v":0.35},{"s":"B","n":20,"t":80,"v":0.42},{"s":"B","n":20,"t":95,"v":0.5},{"s":"B","n":20,"t":110,"v":0.57},{"s":"B","n":20,"t":130,"v":0.649},{"s":"B","n":20,"t":150,"v":0.714},{"s":"B","n":20,"t":175,"v":0.774},{"s":"B","n":20,"t":200,"v":0.821},{"s":"B","n":20,"t":225,"v":0.853},{"s":"B","n":20,"t":250,"v":0.881},{"s":"B","n":20,"t":275,"v":0.902},{"s":"B","n":20,"t":300,"v":0.919},{"s":"B","n":20,"t":350,"v":0.938},{"s":"B","n":20,"t":400,"v":0.949},{"s":"B","n":20,"t":450,"v":0.956},{"s":"B","n":20,"t":500,"v":0.96},{"s":"B","n":20,"t":600,"v":0.963},{"s":"B","n":20,"t":800,"v":0.965},{"s":"B","n":20,"t":1050,"v":0.965}
]},
"mark":{"type":"line","strokeWidth":1,"opacity":0.72,"clip":true},
"encoding":{
"x":{"field":"t","type":"quantitative","scale":{"domain":[50,1046],"nice":false,"zero":false},"axis":{"title":"Time","values":[200,400,600,800,1000],"format":"d"}},
"y":{"field":"v","type":"quantitative","scale":{"domain":[0,1],"nice":false,"zero":false},"axis":{"title":"Continuity Index","values":[0,0.2,0.4,0.6,0.8,1],"format":"~g"}},
"color":{"field":"s","type":"nominal","scale":{"domain":["C","A","B"],"range":["#ad5f5f","#6262c8","#4ea14e"]},"legend":{"title":null,"orient":"none","legendX":262,"legendY":297,"symbolType":"M-5,0H5","symbolSize":117,"symbolStrokeWidth":1,"symbolOpacity":0.8,"rowPadding":10.5,"labelOffset":-199,"labelAlign":"left","labelFont":"Liberation Serif","labelFontSize":20,"labelColor":"#111","labelLimit":300,"padding":0,"labelExpr":"datum.label == 'C' ? 'CoolStreaming' : datum.label == 'A' ? 'Fine-grained (A)' : 'Fine-grained (B)'"}},
"strokeDash":{"field":"s","type":"nominal","scale":{"domain":["C","A","B"],"range":[[1,0],[1.5,2.5],[5,3]]},"legend":{"title":null,"orient":"none","legendX":262,"legendY":297,"symbolType":"M-5,0H5","symbolSize":117,"symbolStrokeWidth":1,"symbolOpacity":0.8,"rowPadding":10.5,"labelOffset":-199,"labelAlign":"left","labelFont":"Liberation Serif","labelFontSize":20,"labelColor":"#111","labelLimit":300,"padding":0,"labelExpr":"datum.label == 'C' ? 'CoolStreaming' : datum.label == 'A' ? 'Fine-grained (A)' : 'Fine-grained (B)'"}},
"detail":{"field":"n","type":"nominal"}
}
},
{
"data":{"values":[{"t":1021,"v":0.048,"label":"(At 20 random nodes)"}]},
"mark":{"type":"text","align":"right","baseline":"middle","font":"Liberation Sans","fontSize":20,"color":"#111"},
"encoding":{
"x":{"field":"t","type":"quantitative","scale":{"domain":[50,1046],"nice":false,"zero":false},"axis":{"orient":"top","title":null,"labels":false,"domain":false,"values":[200,400,600,800,1000]}},
"y":{"field":"v","type":"quantitative","scale":{"domain":[0,1],"nice":false,"zero":false},"axis":{"orient":"right","title":null,"labels":false,"domain":false,"values":[0,0.2,0.4,0.6,0.8,1]}},
"text":{"field":"label"}
}
}
],
"resolve":{"axis":{"x":"independent","y":"independent"}}
}
